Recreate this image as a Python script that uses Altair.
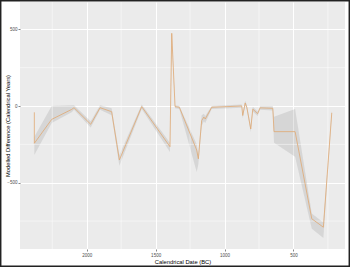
import altair as alt
import pandas as pd

# Calendrical date (BC) of each modelled point, in plotting order
dates = [2380, 2380, 2254, 2109, 2092, 1971, 1903, 1819, 1763, 1601, 1396, 1383,
         1359, 1328, 1202, 1190, 1166, 1150, 1140, 1093, 875, 868, 850, 838, 810,
         795, 760, 742, 650, 641, 488, 367, 283, 222]
# Modelled difference (calendrical years)
values = [-41, -243, -87, -22, -11, -119, -11, -37, -352, -4, -265, 474,
          -4, -8, -287, -344, -95, -72, -85, -8, 0, -62, 20, -10, -150,
          -20, -50, -12, -15, -167, -167, -735, -790, -44]
# Ribbon (uncertainty band)
lower = [-60, -320, -110, -40, -25, -140, -25, -60, -390, -20, -300, 440,
         -15, -20, -430, -380, -130, -100, -110, -20, -12, -80, 5, -25, -170,
         -35, -65, -25, -30, -240, -330, -800, -860, -60]
upper = [-30, -200, 0, 5, 5, -100, 5, -15, -320, 10, -240, 480,
         5, 0, -250, -320, -60, -50, -65, 0, 10, -45, 35, 5, -130,
         -5, -35, 0, 0, -70, -20, -700, -760, -30]

x_ticks = [500, 1000, 1500, 2000]
y_ticks = [-500, 0, 500]
x_minor = [250, 750, 1250, 1750, 2250]
y_minor = [-750, -250, 250]

df = pd.DataFrame({"order": list(range(len(dates))), "date": dates,
                   "value": values, "lower": lower, "upper": upper})

W, H = 325, 247
xscale = alt.Scale(domain=[126, 2484], reverse=True, nice=False, zero=False)
yscale = alt.Scale(domain=[-932, 678], nice=False, zero=False)
xaxis = alt.Axis(values=x_ticks, title="Calendrical Date (BC)", format="d")
yaxis = alt.Axis(values=y_ticks, title="Modelled Difference (Calendrical Years)",
                 titleX=-13, titleY=H / 2, titleAlign="center", titleBaseline="middle",
                 titleAngle=270)

ribbon = alt.Chart(df).mark_area(color="#8c8c8c", opacity=0.22).encode(
    x=alt.X("date:Q", scale=xscale, axis=xaxis),
    y=alt.Y("lower:Q", scale=yscale, axis=yaxis),
    y2="upper:Q",
)

minor_x = alt.Chart(pd.DataFrame({"v": x_minor})).mark_rule(
    color="white", strokeWidth=0.5).encode(x=alt.X("v:Q", scale=xscale, axis=xaxis))
minor_y = alt.Chart(pd.DataFrame({"v": y_minor})).mark_rule(
    color="white", strokeWidth=0.5).encode(y=alt.Y("v:Q", scale=yscale, axis=yaxis))

line = alt.Chart(df).mark_line(color="#E0A872", strokeWidth=0.8).encode(
    x=alt.X("date:Q", scale=xscale, axis=xaxis),
    y=alt.Y("value:Q", scale=yscale, axis=yaxis),
    order="order:Q",
)

frame = alt.Chart(pd.DataFrame({"a": [0]})).mark_rect(
    fill=None, stroke="#222222", strokeWidth=1.5).encode(
    x=alt.value(-19.3), x2=alt.value(329.3), y=alt.value(-1.3), y2=alt.value(264.3))

chart = alt.layer(ribbon, minor_x, minor_y, line, frame).properties(
    width=W, height=H,
    autosize=alt.AutoSizeParams(type="none"),
    padding={"left": 20, "top": 2, "right": 5, "bottom": 18},
    background="white",
).configure_view(fill="#EBEBEB", stroke=None).configure_axis(
    domain=False, grid=True, gridColor="white", gridWidth=1,
    tickColor="#333333", tickSize=2, tickWidth=0.6,
    labelFont="Liberation Sans", labelFontSize=4.5, labelColor="#4d4d4d", labelPadding=1,
    titleFont="Liberation Sans", titleFontSize=5.8, titleFontWeight="normal", titleColor="black",
).configure_axisX(titlePadding=2)

chart.save("out.html", embed_options={"renderer": "svg", "actions": False})
